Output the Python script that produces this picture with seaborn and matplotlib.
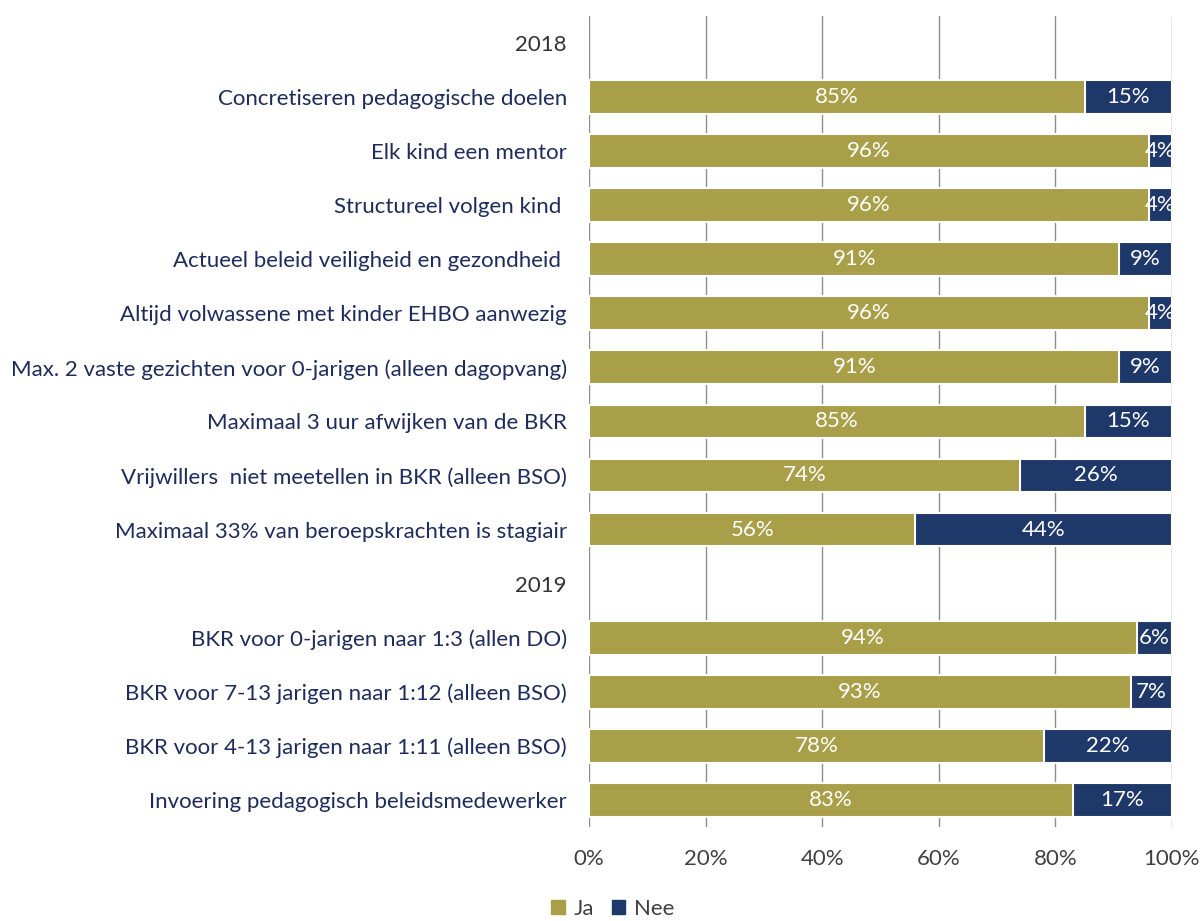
import numpy as np
import pandas as pd
import matplotlib
matplotlib.use("Agg")
import matplotlib.pyplot as plt
import seaborn as sns
from matplotlib.patches import Patch

categories = [
    "2018",
    "Concretiseren pedagogische doelen",
    "Elk kind een mentor",
    "Structureel volgen kind ",
    "Actueel beleid veiligheid en gezondheid ",
    "Altijd volwassene met kinder EHBO aanwezig",
    "Max. 2 vaste gezichten voor 0-jarigen (alleen dagopvang)",
    "Maximaal 3 uur afwijken van de BKR",
    "Vrijwillers  niet meetellen in BKR (alleen BSO)",
    "Maximaal 33% van beroepskrachten is stagiair",
    "2019",
    "BKR voor 0-jarigen naar 1:3 (allen DO)",
    "BKR voor 7-13 jarigen naar 1:12 (alleen BSO)",
    "BKR voor 4-13 jarigen naar 1:11 (alleen BSO)",
    "Invoering pedagogisch beleidsmedewerker",
]
ja = [np.nan, 85, 96, 96, 91, 96, 91, 85, 74, 56, np.nan, 94, 93, 78, 83]
nee = [np.nan, 15, 4, 4, 9, 4, 9, 15, 26, 44, np.nan, 6, 7, 22, 17]
headers = ["2018", "2019"]

ja_color = "#A99F48"
nee_color = "#1E386A"
label_color = "#1F2B5A"

sns.set_style("white")
plt.rcParams["font.family"] = ["Lato", "DejaVu Sans"]

df = pd.DataFrame({"cat": categories, "ja": ja, "nee": nee})
df["total"] = df["ja"] + df["nee"]

fig = plt.figure(figsize=(12.02, 9.21), dpi=100)
ax = fig.add_axes([0.49, 0.102, 0.485, 0.881])

# Nee as full bar underneath, Ja on top
sns.barplot(data=df, y="cat", x="total", order=categories, color=nee_color,
            saturation=1, width=0.62, edgecolor="white", linewidth=1.5, ax=ax)
sns.barplot(data=df, y="cat", x="ja", order=categories, color=ja_color,
            saturation=1, width=0.62, edgecolor="white", linewidth=1.5, ax=ax)

for i, (j, n) in enumerate(zip(ja, nee)):
    if np.isnan(j):
        continue
    ax.text(j / 2, i, f"{j:.0f}%", color="white", ha="center", va="center",
            fontsize=16)
    ax.text(j + n / 2, i, f"{n:.0f}%", color="white", ha="center",
            va="center", fontsize=16)

ax.set_xlim(0, 100)
ax.set_ylim(len(categories) - 0.5, -0.5)
ax.set_xticks([0, 20, 40, 60, 80, 100])
ax.set_xticklabels([f"{t}%" for t in [0, 20, 40, 60, 80, 100]],
                   fontsize=16, color="#404040")
ax.tick_params(axis="x", length=0, pad=16)
ax.tick_params(axis="y", length=0, pad=16)
for lbl in ax.get_yticklabels():
    lbl.set_fontsize(16)
    lbl.set_color("#333333" if lbl.get_text() in headers else label_color)
ax.set_xlabel("")
ax.set_ylabel("")
ax.xaxis.grid(True, color="#8c8c8c", linewidth=1)
ax.set_axisbelow(True)
for s in ax.spines.values():
    s.set_visible(False)

handles = [Patch(color=ja_color, label="Ja"), Patch(color=nee_color, label="Nee")]
fig.legend(handles=handles, loc="center", bbox_to_anchor=(0.51, 0.013),
           ncol=2, frameon=False, fontsize=16, handlelength=0.6,
           handleheight=0.6, handletextpad=0.4, columnspacing=0.8,
           labelcolor="#404040")

fig.savefig("out.png", dpi=100)
